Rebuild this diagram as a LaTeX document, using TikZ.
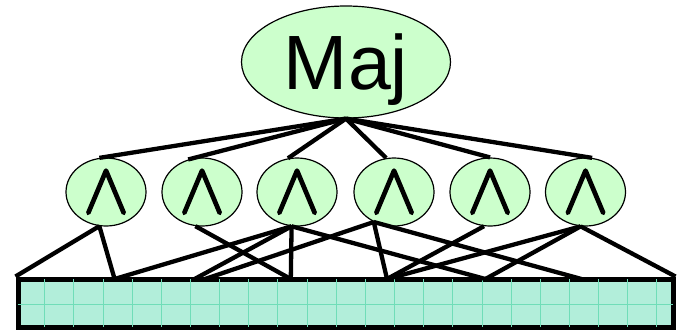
\documentclass[tikz,border=0pt]{standalone}
\usepackage{fontspec}
\setmainfont{Liberation Sans}
\newfontface\symfont[FakeBold=2.5]{Latin Modern Math}
\usetikzlibrary{shapes.geometric}
\definecolor{nodegreen}{HTML}{CCFFCC}
\definecolor{barfill}{HTML}{B2EEDA}
\definecolor{gridcol}{HTML}{70DDB8}
\tikzset{
  majnode/.style={ellipse, draw=black, line width=1.2pt, fill=nodegreen, minimum width=209pt, minimum height=112pt, inner sep=0pt},
  andnode/.style={ellipse, draw=black, line width=1.2pt, fill=nodegreen, minimum width=80pt, minimum height=68pt, inner sep=0pt},
  barnode/.style={rectangle, draw=black, line width=5pt, fill=barfill, minimum width=655pt, minimum height=48pt, inner sep=0pt},
  wire/.style={line width=4.3pt, black},
  gridline/.style={gridcol, line width=0.8pt},
}
\begin{document}
\begin{tikzpicture}[x=1pt,y=-1pt]
\useasboundingbox (0,0) rectangle (682,330);
\coordinate (b1) at (114.6,279);
\coordinate (b2) at (194.6,279);
\coordinate (b3) at (205,279);
\coordinate (b4) at (290.8,279);
\coordinate (b5) at (387,279);
\coordinate (b6) at (485.4,279);
\coordinate (b7) at (581.5,279);
\node[majnode] (maj) at (346,62) {\raisebox{-27pt}[0pt][0pt]{\fontsize{77}{77}\selectfont Maj}};
\foreach \n/\x in {1/106,2/202,3/297,4/394,5/490,6/585.5}
  \node[andnode] (c\n) at (\x,192) {};
\node[barnode] (bar) at (345.5,303) {};
\foreach \i in {1,...,22}
  \draw[gridline] ([xshift=\i*29.15pt, yshift=-2.5pt]bar.north west) -- ([xshift=\i*29.15pt, yshift=2.5pt]bar.south west);
\draw[gridline] ([xshift=2.5pt,yshift=-27.7pt]bar.north west) -- ([xshift=-2.5pt,yshift=-27.7pt]bar.north east);
% top wires
\draw[wire] (maj.south) -- (c1.101);
\draw[wire] (maj.south) -- (c2.113);
\draw[wire] (maj.south) -- (c3.105);
\draw[wire] (maj.south) -- (c4.103);
\draw[wire] (maj.south) -- (c5.90);
\draw[wire] (maj.south) -- (c6.79);
% bottom wires
\draw[wire] (c1.259) -- (bar.north west);
\draw[wire] (c1.259) -- (b1);
\draw[wire] (c2.259) -- (b4);
\draw[wire] (c3.261) -- (b1);
\draw[wire] (c3.261) -- (b2);
\draw[wire] (c3.261) -- (b4);
\draw[wire] (c3.261) -- (b6);
\draw[wire] (c4.236) -- (b3);
\draw[wire] (c4.236) -- (b5);
\draw[wire] (c4.236) -- (b7);
\draw[wire] (c5.260) -- (b5);
\draw[wire] (c6.262) -- (b5);
\draw[wire] (c6.262) -- (b6);
\draw[wire] (c6.262) -- (bar.north east);
% wedge labels
\foreach \n in {1,...,6}
  \node[inner sep=0pt] at (c\n) {\symfont\fontsize{72}{72}\selectfont ∧};
\end{tikzpicture}
\end{document}
